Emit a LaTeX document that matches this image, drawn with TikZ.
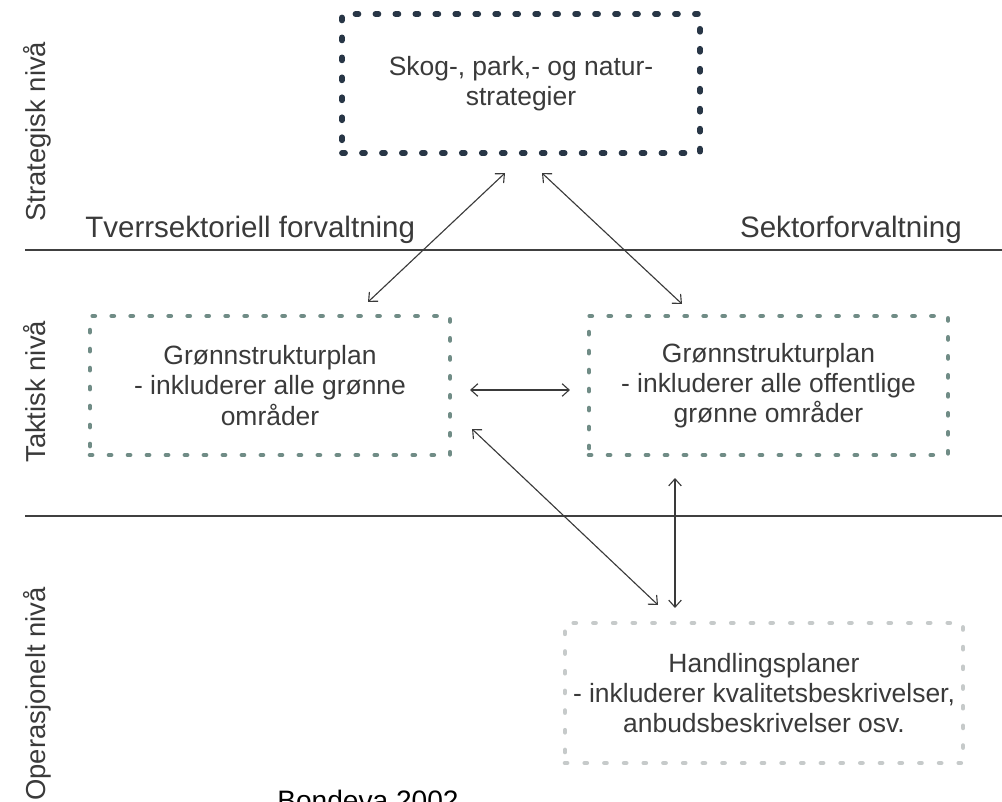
\documentclass[tikz,border=0pt]{standalone}
\usepackage{fontspec}
\setmainfont{Liberation Sans}
\usetikzlibrary{arrows.meta}
\definecolor{strokedark}{RGB}{40,54,70}
\definecolor{stroketeal}{RGB}{112,140,134}
\definecolor{strokelight}{RGB}{198,202,202}
\definecolor{inkgray}{RGB}{58,58,58}

\begin{document}
\begin{tikzpicture}[x=0.025cm, y=-0.025cm,
  box/.style={rectangle, inner sep=0pt, outer sep=0pt, align=center, text=inkgray,
    font=\fontsize{18.8}{21.5}\selectfont, line cap=round},
  stratbox/.style={box, draw=strokedark, line width=4pt, dash pattern=on 2.2pt off 12pt},
  taktbox/.style={box, draw=stroketeal, line width=3.2pt, dash pattern=on 1.6pt off 11.9pt},
  opbox/.style={box, draw=strokelight, line width=3.2pt, dash pattern=on 1.6pt off 12.4pt},
  level/.style={rotate=90, anchor=base west, inner sep=0pt, text=inkgray,
    font=\fontsize{19.5}{22}\selectfont},
  sector/.style={inner sep=0pt, text=inkgray, font=\fontsize{21}{24}\selectfont},
  divider/.style={line width=1pt, draw=black!75},
  link/.style={{Straight Barb[length=5pt,width=9pt]}-{Straight Barb[length=5pt,width=9pt]},
    line width=0.8pt, draw=inkgray}
]
  \useasboundingbox (0,0) rectangle (1002,802);

  % levels
  \draw[divider] (25,250) -- (1002,250);
  \draw[divider] (25,516) -- (1002,516);
  \node[level] (strategisk) at (45,222) {Strategisk nivå};
  \node[level] (taktisk) at (45,463) {Taktisk nivå};
  \node[level] (operasjonelt) at (45,801) {Operasjonelt nivå};
  \node[sector, anchor=base west] (tverrsektoriell) at (85,237) {Tverrsektoriell forvaltning};
  \node[sector, anchor=base east] (sektorforv) at (962,237) {Sektorforvaltning};

  % boxes
  \node[stratbox, minimum width=8.95cm, minimum height=3.475cm] (strat) at (521,83.5)
    {Skog-, park,- og natur-\\strategier};
  \node[taktbox, minimum width=9cm, minimum height=3.475cm] (tverr) at (270,385.5)
    {Grønnstrukturplan\\- inkluderer alle grønne\\områder};
  \node[taktbox, minimum width=8.975cm, minimum height=3.475cm] (sektor) at (768.5,385.5)
    {Grønnstrukturplan\\- inkluderer alle offentlige\\grønne områder};
  \node[opbox, minimum width=9.95cm, minimum height=3.5cm] (hand) at (764,693)
    {Handlingsplaner\\- inkluderer kvalitetsbeskrivelser,\\anbudsbeskrivelser osv.};

  % links
  \draw[link] ([shift={(-16,20)}]strat.south) -- ([shift={(98,-14)}]tverr.north);
  \draw[link] ([shift={(21,20)}]strat.south) -- ([shift={(-86.5,-12)}]sektor.north);
  \draw[link] ([shift={(20,4.5)}]tverr.east) -- ([shift={(-19,4.5)}]sektor.west);
  \draw[link] ([shift={(22,43.5)}]tverr.east) -- ([shift={(-106,-18)}]hand.north);
  \draw[link] ([shift={(-93.5,23)}]sektor.south) -- ([shift={(-89,-15)}]hand.north);

  \node[anchor=base west, inner sep=0pt, font=\fontsize{20}{24}\selectfont] (kilde) at (277,810)
    {Bondeva 2002};
\end{tikzpicture}
\end{document}
